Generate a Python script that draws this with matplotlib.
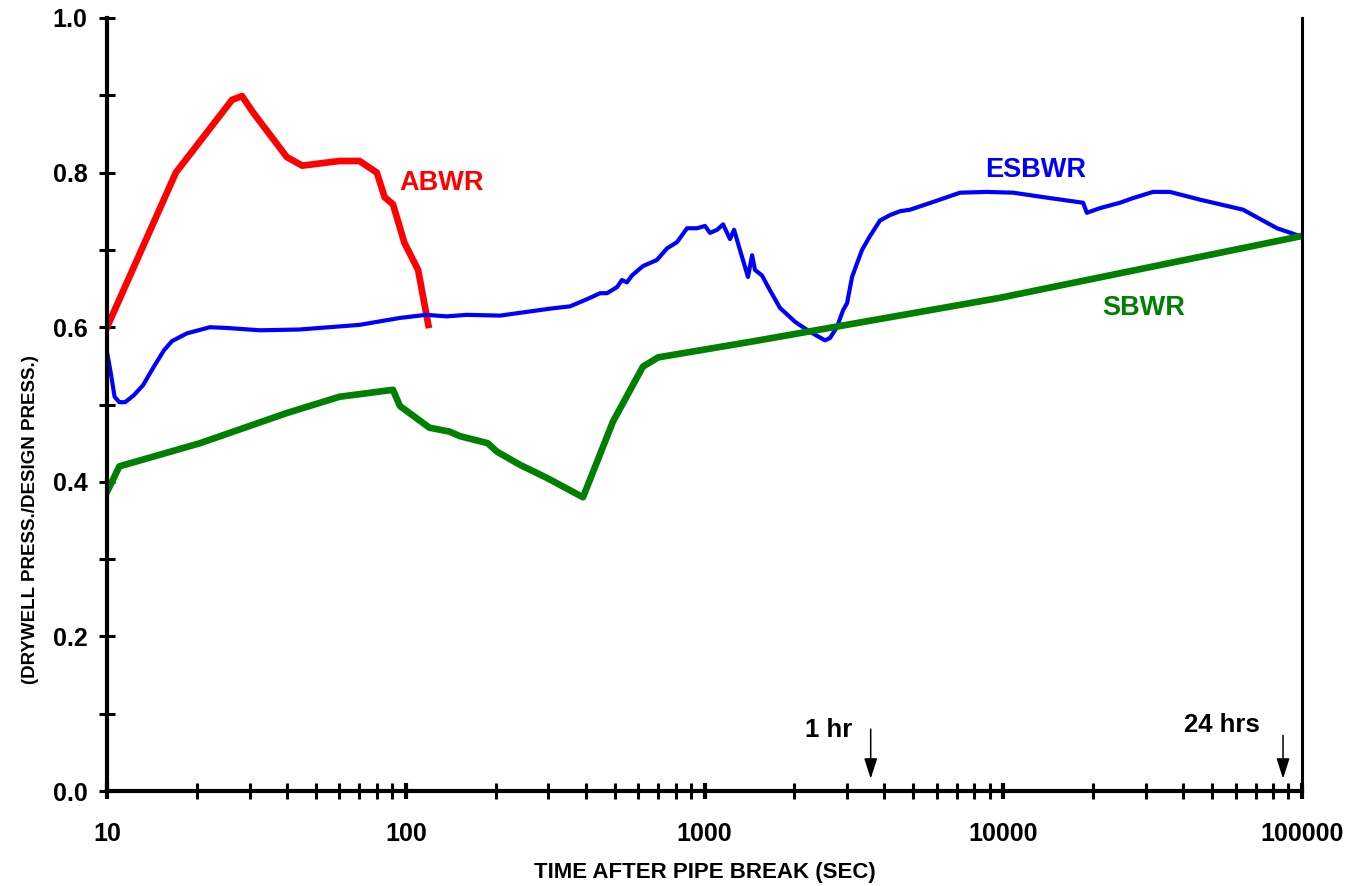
#!/usr/bin/env python

import matplotlib

matplotlib.use("Agg")
import matplotlib.pyplot as plt
from matplotlib.ticker import FixedLocator, FormatStrFormatter, NullFormatter

plt.rcParams["font.family"] = ["Liberation Sans", "DejaVu Sans"]
plt.rcParams["font.weight"] = "bold"

# time after pipe break (s) and drywell press./design press.
abwr_t = [10, 17, 26.2, 28.3, 30.8, 40, 45, 60, 70, 80, 85, 90.6, 99, 110, 119]
abwr_p = [0.600, 0.800, 0.894, 0.899, 0.878, 0.820, 0.809, 0.815, 0.815,
          0.800, 0.768, 0.759, 0.709, 0.674, 0.603]

esbwr_t = [10, 10.3, 10.6, 11.0, 11.5, 12.3, 13.2, 14.3, 15.5, 16.5, 18.5, 22.1,
           25.2, 32.5, 44, 70, 95.6, 117, 137, 160, 207, 304, 355, 414, 447, 472,
           510, 529, 550, 572, 622, 693, 749, 809, 874, 944, 1004, 1043, 1102,
           1154, 1217, 1256, 1314, 1398, 1443, 1476, 1557, 1655, 1789, 2009,
           2138, 2256, 2531, 2630, 2775, 2910, 3000, 3118, 3243, 3368, 3582,
           3867, 4177, 4510, 4875, 5823, 7165, 8823, 10790, 14350, 18500,
           19050, 21070, 24590, 27180, 31700, 36140, 45570, 63500, 82500, 100000]
esbwr_p = [0.568, 0.540, 0.510, 0.503, 0.503, 0.512, 0.525, 0.548, 0.570, 0.582,
           0.592, 0.600, 0.599, 0.596, 0.597, 0.603, 0.612, 0.616, 0.614, 0.616,
           0.615, 0.624, 0.627, 0.638, 0.644, 0.644, 0.652, 0.661, 0.658, 0.667,
           0.679, 0.687, 0.702, 0.710, 0.728, 0.728, 0.731, 0.722, 0.726, 0.733,
           0.714, 0.726, 0.700, 0.665, 0.693, 0.674, 0.667, 0.648, 0.625, 0.607,
           0.600, 0.594, 0.583, 0.586, 0.600, 0.622, 0.631, 0.665, 0.683, 0.700,
           0.718, 0.738, 0.745, 0.750, 0.752, 0.762, 0.774, 0.775, 0.774, 0.767,
           0.761, 0.748, 0.754, 0.761, 0.767, 0.775, 0.775, 0.765, 0.752, 0.728,
           0.717]

sbwr_t = [10, 11.0, 20.5, 40, 60, 90.6, 95.6, 120, 140, 152, 188, 202, 241, 297,
          392, 494, 622, 700, 1420, 9750, 100000]
sbwr_p = [0.387, 0.420, 0.450, 0.489, 0.510, 0.519, 0.498, 0.470, 0.465, 0.459,
          0.450, 0.439, 0.422, 0.405, 0.380, 0.478, 0.549, 0.561, 0.581, 0.638,
          0.718]

x_ticks = [10, 100, 1000, 10000, 100000]
x_minor = [m * d for d in [10, 100, 1000, 10000] for m in range(2, 10)]
y_ticks = [0.0, 0.2, 0.4, 0.6, 0.8, 1.0]
y_minor = [0.1, 0.3, 0.5, 0.7, 0.9]


def main():

    fig = plt.figure(figsize=(13.53, 8.86), dpi=100)
    ax = fig.add_axes([0.0791, 0.1072, 0.8832, 0.8725])

    ax.plot(abwr_t, abwr_p, color="#ff0000", lw=4.8, solid_joinstyle="round")
    ax.plot(esbwr_t, esbwr_p, color="#0000ff", lw=3, solid_joinstyle="round")
    ax.plot(sbwr_t, sbwr_p, color="#008000", lw=4.8, solid_joinstyle="round")

    ax.set_xscale("log")
    ax.set_xlim(10, 100000)
    ax.set_ylim(0, 1.0)

    ax.xaxis.set_major_locator(FixedLocator(x_ticks))
    ax.xaxis.set_minor_locator(FixedLocator(x_minor))
    ax.xaxis.set_major_formatter(FormatStrFormatter("%d"))
    ax.xaxis.set_minor_formatter(NullFormatter())
    ax.yaxis.set_major_locator(FixedLocator(y_ticks))
    ax.yaxis.set_minor_locator(FixedLocator(y_minor))
    ax.yaxis.set_major_formatter(FormatStrFormatter("%.1f"))

    ax.tick_params(axis="both", which="both", direction="inout", length=12,
                   width=2.2, labelsize=18)
    ax.tick_params(axis="x", which="major", width=3, pad=16)
    ax.tick_params(axis="y", which="both", pad=8)
    ax.tick_params(right=False, top=False)

    ax.spines["top"].set_visible(False)
    ax.spines["left"].set_linewidth(3)
    ax.spines["bottom"].set_linewidth(3)
    ax.spines["right"].set_linewidth(2.2)

    ax.set_xlabel("TIME AFTER PIPE BREAK (SEC)", fontsize=16, fontweight="bold",
                  labelpad=12)
    ax.set_ylabel("(DRYWELL PRESS./DESIGN PRESS.)", fontsize=13.5,
                  fontweight="bold", labelpad=12)
    ax.yaxis.set_label_coords(-0.057, 0.351)

    ax.text(95, 0.787, "ABWR", color="#ff0000", fontsize=19.5, fontweight="bold",
            va="center", ha="left")
    ax.text(8690, 0.803, "ESBWR", color="#0000ff", fontsize=19.5,
            fontweight="bold", va="center", ha="left")
    ax.text(21400, 0.625, "SBWR", color="#008000", fontsize=19.5,
            fontweight="bold", va="center", ha="left")

    arrow = dict(arrowstyle="-|>,head_length=0.62,head_width=0.2",
                 color="black", lw=1.1, mutation_scale=20, shrinkA=0, shrinkB=0)
    ax.annotate("", xy=(3600, 0.016), xytext=(3600, 0.080), arrowprops=arrow)
    ax.annotate("", xy=(86400, 0.016), xytext=(86400, 0.072), arrowprops=arrow)
    ax.text(3119, 0.0795, "1 hr", fontsize=18.5, fontweight="bold",
            va="center", ha="right")
    ax.text(72300, 0.085, "24 hrs", fontsize=18.5, fontweight="bold",
            va="center", ha="right")

    fig.savefig("out.png", dpi=100)


if __name__ == "__main__":
    main()
